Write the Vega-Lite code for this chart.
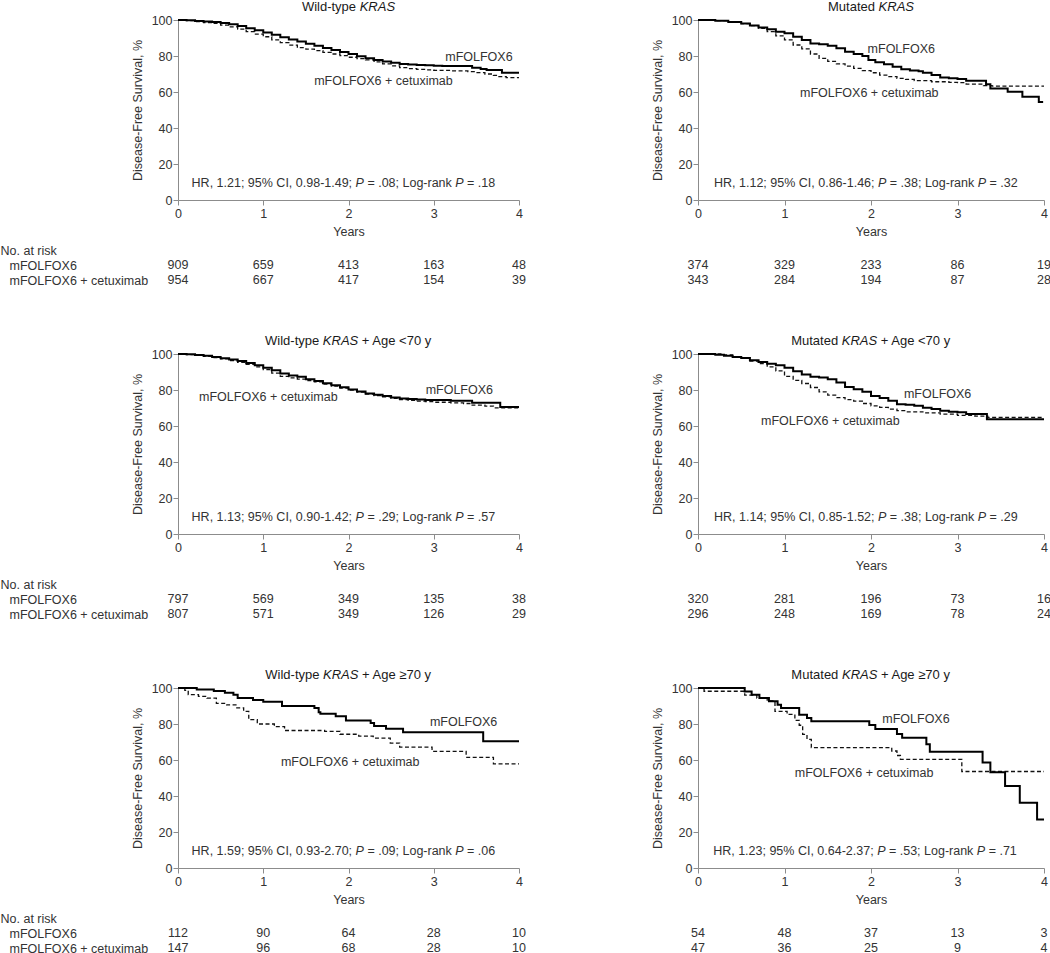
{
  "$schema": "https://vega.github.io/schema/vega-lite/v6.json",
  "padding": 0,
  "background": "white",
  "config": {
    "view": {"stroke": null},
    "font": "Liberation Sans",
    "axis": {"grid": false, "domainColor": "#8c8c8c", "tickColor": "#8c8c8c", "labelColor": "#333333", "titleColor": "#333333", "labelFontSize": 12.5, "titleFontSize": 12.5, "titleFontWeight": "normal", "tickSize": 5, "labelFlush": false, "labelOverlap": false},
    "axisX": {"labelPadding": 2, "titlePadding": 6},
    "axisY": {"labelPadding": 1, "titlePadding": 7},
    "text": {"fontSize": 12.5, "color": "#333333", "baseline": "middle"}
  },
  "datasets": {
    "km": [
      {"panel":"p1","arm":"mFOLFOX6","t":0,"s":100},{"panel":"p1","arm":"mFOLFOX6","t":0.1,"s":99.8},{"panel":"p1","arm":"mFOLFOX6","t":0.2,"s":99.5},{"panel":"p1","arm":"mFOLFOX6","t":0.3,"s":99.2},{"panel":"p1","arm":"mFOLFOX6","t":0.4,"s":98.9},{"panel":"p1","arm":"mFOLFOX6","t":0.5,"s":98.3},{"panel":"p1","arm":"mFOLFOX6","t":0.6,"s":97.6},{"panel":"p1","arm":"mFOLFOX6","t":0.7,"s":96.6},{"panel":"p1","arm":"mFOLFOX6","t":0.8,"s":95.4},{"panel":"p1","arm":"mFOLFOX6","t":0.9,"s":94.3},{"panel":"p1","arm":"mFOLFOX6","t":1.0,"s":93.1},{"panel":"p1","arm":"mFOLFOX6","t":1.1,"s":91.8},{"panel":"p1","arm":"mFOLFOX6","t":1.2,"s":90.4},{"panel":"p1","arm":"mFOLFOX6","t":1.3,"s":89.1},{"panel":"p1","arm":"mFOLFOX6","t":1.4,"s":88.0},{"panel":"p1","arm":"mFOLFOX6","t":1.5,"s":86.8},{"panel":"p1","arm":"mFOLFOX6","t":1.6,"s":85.7},{"panel":"p1","arm":"mFOLFOX6","t":1.7,"s":84.5},{"panel":"p1","arm":"mFOLFOX6","t":1.8,"s":83.3},{"panel":"p1","arm":"mFOLFOX6","t":1.9,"s":82.2},{"panel":"p1","arm":"mFOLFOX6","t":2.0,"s":81.1},{"panel":"p1","arm":"mFOLFOX6","t":2.1,"s":79.9},{"panel":"p1","arm":"mFOLFOX6","t":2.2,"s":78.7},{"panel":"p1","arm":"mFOLFOX6","t":2.3,"s":77.8},{"panel":"p1","arm":"mFOLFOX6","t":2.4,"s":76.9},{"panel":"p1","arm":"mFOLFOX6","t":2.5,"s":76.2},{"panel":"p1","arm":"mFOLFOX6","t":2.6,"s":75.6},{"panel":"p1","arm":"mFOLFOX6","t":2.7,"s":75.3},{"panel":"p1","arm":"mFOLFOX6","t":2.8,"s":75.0},{"panel":"p1","arm":"mFOLFOX6","t":2.9,"s":74.8},{"panel":"p1","arm":"mFOLFOX6","t":3.0,"s":74.6},{"panel":"p1","arm":"mFOLFOX6","t":3.1,"s":74.5},{"panel":"p1","arm":"mFOLFOX6","t":3.2,"s":74.4},{"panel":"p1","arm":"mFOLFOX6","t":3.45,"s":73.5},{"panel":"p1","arm":"mFOLFOX6","t":3.55,"s":72.8},{"panel":"p1","arm":"mFOLFOX6","t":3.62,"s":72.2},{"panel":"p1","arm":"mFOLFOX6","t":3.8,"s":70.7},{"panel":"p1","arm":"mFOLFOX6","t":4.0,"s":70.7},
      {"panel":"p1","arm":"mFOLFOX6 + cetuximab","t":0,"s":100},{"panel":"p1","arm":"mFOLFOX6 + cetuximab","t":0.1,"s":99.6},{"panel":"p1","arm":"mFOLFOX6 + cetuximab","t":0.2,"s":99.1},{"panel":"p1","arm":"mFOLFOX6 + cetuximab","t":0.3,"s":98.6},{"panel":"p1","arm":"mFOLFOX6 + cetuximab","t":0.4,"s":98.1},{"panel":"p1","arm":"mFOLFOX6 + cetuximab","t":0.5,"s":97.2},{"panel":"p1","arm":"mFOLFOX6 + cetuximab","t":0.6,"s":96.2},{"panel":"p1","arm":"mFOLFOX6 + cetuximab","t":0.7,"s":94.9},{"panel":"p1","arm":"mFOLFOX6 + cetuximab","t":0.8,"s":93.5},{"panel":"p1","arm":"mFOLFOX6 + cetuximab","t":0.9,"s":92.1},{"panel":"p1","arm":"mFOLFOX6 + cetuximab","t":1.0,"s":90.7},{"panel":"p1","arm":"mFOLFOX6 + cetuximab","t":1.1,"s":89.0},{"panel":"p1","arm":"mFOLFOX6 + cetuximab","t":1.2,"s":87.4},{"panel":"p1","arm":"mFOLFOX6 + cetuximab","t":1.3,"s":86.0},{"panel":"p1","arm":"mFOLFOX6 + cetuximab","t":1.4,"s":84.6},{"panel":"p1","arm":"mFOLFOX6 + cetuximab","t":1.5,"s":83.8},{"panel":"p1","arm":"mFOLFOX6 + cetuximab","t":1.6,"s":83.0},{"panel":"p1","arm":"mFOLFOX6 + cetuximab","t":1.7,"s":82.0},{"panel":"p1","arm":"mFOLFOX6 + cetuximab","t":1.8,"s":81.1},{"panel":"p1","arm":"mFOLFOX6 + cetuximab","t":1.9,"s":80.2},{"panel":"p1","arm":"mFOLFOX6 + cetuximab","t":2.0,"s":79.3},{"panel":"p1","arm":"mFOLFOX6 + cetuximab","t":2.1,"s":78.5},{"panel":"p1","arm":"mFOLFOX6 + cetuximab","t":2.2,"s":77.8},{"panel":"p1","arm":"mFOLFOX6 + cetuximab","t":2.3,"s":76.7},{"panel":"p1","arm":"mFOLFOX6 + cetuximab","t":2.4,"s":75.6},{"panel":"p1","arm":"mFOLFOX6 + cetuximab","t":2.5,"s":74.5},{"panel":"p1","arm":"mFOLFOX6 + cetuximab","t":2.6,"s":73.5},{"panel":"p1","arm":"mFOLFOX6 + cetuximab","t":2.7,"s":73.0},{"panel":"p1","arm":"mFOLFOX6 + cetuximab","t":2.8,"s":72.6},{"panel":"p1","arm":"mFOLFOX6 + cetuximab","t":2.9,"s":72.3},{"panel":"p1","arm":"mFOLFOX6 + cetuximab","t":3.0,"s":72.0},{"panel":"p1","arm":"mFOLFOX6 + cetuximab","t":3.2,"s":71.7},{"panel":"p1","arm":"mFOLFOX6 + cetuximab","t":3.4,"s":71.3},{"panel":"p1","arm":"mFOLFOX6 + cetuximab","t":3.5,"s":70.8},{"panel":"p1","arm":"mFOLFOX6 + cetuximab","t":3.6,"s":70.0},{"panel":"p1","arm":"mFOLFOX6 + cetuximab","t":3.7,"s":69.2},{"panel":"p1","arm":"mFOLFOX6 + cetuximab","t":3.75,"s":68.5},{"panel":"p1","arm":"mFOLFOX6 + cetuximab","t":3.85,"s":68.0},{"panel":"p1","arm":"mFOLFOX6 + cetuximab","t":4.0,"s":68.0},

      {"panel":"p2","arm":"mFOLFOX6","t":0,"s":100},{"panel":"p2","arm":"mFOLFOX6","t":0.2,"s":99.6},{"panel":"p2","arm":"mFOLFOX6","t":0.35,"s":98.9},{"panel":"p2","arm":"mFOLFOX6","t":0.5,"s":98.1},{"panel":"p2","arm":"mFOLFOX6","t":0.6,"s":97.0},{"panel":"p2","arm":"mFOLFOX6","t":0.7,"s":95.9},{"panel":"p2","arm":"mFOLFOX6","t":0.8,"s":94.8},{"panel":"p2","arm":"mFOLFOX6","t":0.9,"s":93.5},{"panel":"p2","arm":"mFOLFOX6","t":1.0,"s":92.6},{"panel":"p2","arm":"mFOLFOX6","t":1.1,"s":90.7},{"panel":"p2","arm":"mFOLFOX6","t":1.2,"s":88.9},{"panel":"p2","arm":"mFOLFOX6","t":1.3,"s":87.0},{"panel":"p2","arm":"mFOLFOX6","t":1.4,"s":86.5},{"panel":"p2","arm":"mFOLFOX6","t":1.5,"s":85.7},{"panel":"p2","arm":"mFOLFOX6","t":1.6,"s":84.3},{"panel":"p2","arm":"mFOLFOX6","t":1.7,"s":82.4},{"panel":"p2","arm":"mFOLFOX6","t":1.8,"s":81.1},{"panel":"p2","arm":"mFOLFOX6","t":1.9,"s":80.0},{"panel":"p2","arm":"mFOLFOX6","t":1.97,"s":77.8},{"panel":"p2","arm":"mFOLFOX6","t":2.05,"s":76.5},{"panel":"p2","arm":"mFOLFOX6","t":2.15,"s":75.4},{"panel":"p2","arm":"mFOLFOX6","t":2.25,"s":74.0},{"panel":"p2","arm":"mFOLFOX6","t":2.35,"s":72.6},{"panel":"p2","arm":"mFOLFOX6","t":2.45,"s":72.0},{"panel":"p2","arm":"mFOLFOX6","t":2.55,"s":71.5},{"panel":"p2","arm":"mFOLFOX6","t":2.6,"s":70.7},{"panel":"p2","arm":"mFOLFOX6","t":2.7,"s":69.4},{"panel":"p2","arm":"mFOLFOX6","t":2.8,"s":68.1},{"panel":"p2","arm":"mFOLFOX6","t":2.9,"s":67.6},{"panel":"p2","arm":"mFOLFOX6","t":3.0,"s":67.2},{"panel":"p2","arm":"mFOLFOX6","t":3.1,"s":66.3},{"panel":"p2","arm":"mFOLFOX6","t":3.33,"s":64.3},{"panel":"p2","arm":"mFOLFOX6","t":3.38,"s":62.0},{"panel":"p2","arm":"mFOLFOX6","t":3.58,"s":60.2},{"panel":"p2","arm":"mFOLFOX6","t":3.75,"s":57.4},{"panel":"p2","arm":"mFOLFOX6","t":3.94,"s":54.5},{"panel":"p2","arm":"mFOLFOX6","t":3.99,"s":54.5},
      {"panel":"p2","arm":"mFOLFOX6 + cetuximab","t":0,"s":100},{"panel":"p2","arm":"mFOLFOX6 + cetuximab","t":0.2,"s":99.6},{"panel":"p2","arm":"mFOLFOX6 + cetuximab","t":0.35,"s":98.9},{"panel":"p2","arm":"mFOLFOX6 + cetuximab","t":0.5,"s":98.0},{"panel":"p2","arm":"mFOLFOX6 + cetuximab","t":0.6,"s":96.9},{"panel":"p2","arm":"mFOLFOX6 + cetuximab","t":0.7,"s":95.4},{"panel":"p2","arm":"mFOLFOX6 + cetuximab","t":0.8,"s":93.5},{"panel":"p2","arm":"mFOLFOX6 + cetuximab","t":0.9,"s":91.2},{"panel":"p2","arm":"mFOLFOX6 + cetuximab","t":1.0,"s":89.0},{"panel":"p2","arm":"mFOLFOX6 + cetuximab","t":1.1,"s":86.1},{"panel":"p2","arm":"mFOLFOX6 + cetuximab","t":1.2,"s":84.0},{"panel":"p2","arm":"mFOLFOX6 + cetuximab","t":1.3,"s":81.1},{"panel":"p2","arm":"mFOLFOX6 + cetuximab","t":1.4,"s":78.7},{"panel":"p2","arm":"mFOLFOX6 + cetuximab","t":1.5,"s":77.0},{"panel":"p2","arm":"mFOLFOX6 + cetuximab","t":1.6,"s":75.6},{"panel":"p2","arm":"mFOLFOX6 + cetuximab","t":1.7,"s":74.4},{"panel":"p2","arm":"mFOLFOX6 + cetuximab","t":1.8,"s":73.1},{"panel":"p2","arm":"mFOLFOX6 + cetuximab","t":1.9,"s":71.9},{"panel":"p2","arm":"mFOLFOX6 + cetuximab","t":2.0,"s":70.7},{"panel":"p2","arm":"mFOLFOX6 + cetuximab","t":2.1,"s":69.4},{"panel":"p2","arm":"mFOLFOX6 + cetuximab","t":2.2,"s":68.5},{"panel":"p2","arm":"mFOLFOX6 + cetuximab","t":2.3,"s":67.6},{"panel":"p2","arm":"mFOLFOX6 + cetuximab","t":2.4,"s":67.0},{"panel":"p2","arm":"mFOLFOX6 + cetuximab","t":2.5,"s":66.3},{"panel":"p2","arm":"mFOLFOX6 + cetuximab","t":2.7,"s":65.7},{"panel":"p2","arm":"mFOLFOX6 + cetuximab","t":2.9,"s":65.4},{"panel":"p2","arm":"mFOLFOX6 + cetuximab","t":3.0,"s":65.2},{"panel":"p2","arm":"mFOLFOX6 + cetuximab","t":3.1,"s":64.4},{"panel":"p2","arm":"mFOLFOX6 + cetuximab","t":3.3,"s":63.5},{"panel":"p2","arm":"mFOLFOX6 + cetuximab","t":3.4,"s":63.3},{"panel":"p2","arm":"mFOLFOX6 + cetuximab","t":4.0,"s":63.3},

      {"panel":"p3","arm":"mFOLFOX6","t":0,"s":100},{"panel":"p3","arm":"mFOLFOX6","t":0.1,"s":99.8},{"panel":"p3","arm":"mFOLFOX6","t":0.2,"s":99.5},{"panel":"p3","arm":"mFOLFOX6","t":0.3,"s":99.0},{"panel":"p3","arm":"mFOLFOX6","t":0.4,"s":98.3},{"panel":"p3","arm":"mFOLFOX6","t":0.5,"s":97.7},{"panel":"p3","arm":"mFOLFOX6","t":0.6,"s":97.0},{"panel":"p3","arm":"mFOLFOX6","t":0.7,"s":96.1},{"panel":"p3","arm":"mFOLFOX6","t":0.8,"s":95.0},{"panel":"p3","arm":"mFOLFOX6","t":0.9,"s":93.8},{"panel":"p3","arm":"mFOLFOX6","t":1.0,"s":92.4},{"panel":"p3","arm":"mFOLFOX6","t":1.1,"s":91.0},{"panel":"p3","arm":"mFOLFOX6","t":1.2,"s":89.1},{"panel":"p3","arm":"mFOLFOX6","t":1.3,"s":88.0},{"panel":"p3","arm":"mFOLFOX6","t":1.4,"s":87.3},{"panel":"p3","arm":"mFOLFOX6","t":1.5,"s":86.0},{"panel":"p3","arm":"mFOLFOX6","t":1.6,"s":85.0},{"panel":"p3","arm":"mFOLFOX6","t":1.7,"s":83.8},{"panel":"p3","arm":"mFOLFOX6","t":1.8,"s":82.7},{"panel":"p3","arm":"mFOLFOX6","t":1.9,"s":81.5},{"panel":"p3","arm":"mFOLFOX6","t":2.0,"s":80.3},{"panel":"p3","arm":"mFOLFOX6","t":2.1,"s":79.1},{"panel":"p3","arm":"mFOLFOX6","t":2.2,"s":78.0},{"panel":"p3","arm":"mFOLFOX6","t":2.3,"s":77.3},{"panel":"p3","arm":"mFOLFOX6","t":2.4,"s":76.6},{"panel":"p3","arm":"mFOLFOX6","t":2.5,"s":75.9},{"panel":"p3","arm":"mFOLFOX6","t":2.6,"s":75.3},{"panel":"p3","arm":"mFOLFOX6","t":2.7,"s":75.0},{"panel":"p3","arm":"mFOLFOX6","t":2.8,"s":74.7},{"panel":"p3","arm":"mFOLFOX6","t":2.9,"s":74.5},{"panel":"p3","arm":"mFOLFOX6","t":3.0,"s":74.4},{"panel":"p3","arm":"mFOLFOX6","t":3.2,"s":74.0},{"panel":"p3","arm":"mFOLFOX6","t":3.45,"s":72.9},{"panel":"p3","arm":"mFOLFOX6","t":3.78,"s":70.5},{"panel":"p3","arm":"mFOLFOX6","t":4.0,"s":70.5},
      {"panel":"p3","arm":"mFOLFOX6 + cetuximab","t":0,"s":100},{"panel":"p3","arm":"mFOLFOX6 + cetuximab","t":0.1,"s":99.7},{"panel":"p3","arm":"mFOLFOX6 + cetuximab","t":0.2,"s":99.3},{"panel":"p3","arm":"mFOLFOX6 + cetuximab","t":0.3,"s":98.7},{"panel":"p3","arm":"mFOLFOX6 + cetuximab","t":0.4,"s":98.0},{"panel":"p3","arm":"mFOLFOX6 + cetuximab","t":0.5,"s":97.3},{"panel":"p3","arm":"mFOLFOX6 + cetuximab","t":0.6,"s":96.4},{"panel":"p3","arm":"mFOLFOX6 + cetuximab","t":0.7,"s":95.4},{"panel":"p3","arm":"mFOLFOX6 + cetuximab","t":0.8,"s":94.3},{"panel":"p3","arm":"mFOLFOX6 + cetuximab","t":0.9,"s":92.9},{"panel":"p3","arm":"mFOLFOX6 + cetuximab","t":1.0,"s":91.3},{"panel":"p3","arm":"mFOLFOX6 + cetuximab","t":1.1,"s":89.4},{"panel":"p3","arm":"mFOLFOX6 + cetuximab","t":1.2,"s":87.6},{"panel":"p3","arm":"mFOLFOX6 + cetuximab","t":1.3,"s":86.7},{"panel":"p3","arm":"mFOLFOX6 + cetuximab","t":1.4,"s":86.0},{"panel":"p3","arm":"mFOLFOX6 + cetuximab","t":1.5,"s":85.2},{"panel":"p3","arm":"mFOLFOX6 + cetuximab","t":1.6,"s":84.5},{"panel":"p3","arm":"mFOLFOX6 + cetuximab","t":1.7,"s":83.3},{"panel":"p3","arm":"mFOLFOX6 + cetuximab","t":1.8,"s":82.1},{"panel":"p3","arm":"mFOLFOX6 + cetuximab","t":1.9,"s":81.0},{"panel":"p3","arm":"mFOLFOX6 + cetuximab","t":2.0,"s":79.9},{"panel":"p3","arm":"mFOLFOX6 + cetuximab","t":2.1,"s":78.8},{"panel":"p3","arm":"mFOLFOX6 + cetuximab","t":2.2,"s":77.7},{"panel":"p3","arm":"mFOLFOX6 + cetuximab","t":2.3,"s":76.9},{"panel":"p3","arm":"mFOLFOX6 + cetuximab","t":2.4,"s":76.2},{"panel":"p3","arm":"mFOLFOX6 + cetuximab","t":2.5,"s":75.4},{"panel":"p3","arm":"mFOLFOX6 + cetuximab","t":2.6,"s":74.7},{"panel":"p3","arm":"mFOLFOX6 + cetuximab","t":2.7,"s":74.2},{"panel":"p3","arm":"mFOLFOX6 + cetuximab","t":2.8,"s":73.8},{"panel":"p3","arm":"mFOLFOX6 + cetuximab","t":2.9,"s":73.5},{"panel":"p3","arm":"mFOLFOX6 + cetuximab","t":3.0,"s":73.2},{"panel":"p3","arm":"mFOLFOX6 + cetuximab","t":3.2,"s":72.9},{"panel":"p3","arm":"mFOLFOX6 + cetuximab","t":3.35,"s":72.5},{"panel":"p3","arm":"mFOLFOX6 + cetuximab","t":3.45,"s":71.6},{"panel":"p3","arm":"mFOLFOX6 + cetuximab","t":3.6,"s":71.0},{"panel":"p3","arm":"mFOLFOX6 + cetuximab","t":3.7,"s":70.1},{"panel":"p3","arm":"mFOLFOX6 + cetuximab","t":4.0,"s":70.1},

      {"panel":"p4","arm":"mFOLFOX6","t":0,"s":100},{"panel":"p4","arm":"mFOLFOX6","t":0.2,"s":99.6},{"panel":"p4","arm":"mFOLFOX6","t":0.3,"s":99.0},{"panel":"p4","arm":"mFOLFOX6","t":0.4,"s":98.3},{"panel":"p4","arm":"mFOLFOX6","t":0.5,"s":97.8},{"panel":"p4","arm":"mFOLFOX6","t":0.6,"s":96.5},{"panel":"p4","arm":"mFOLFOX6","t":0.7,"s":95.6},{"panel":"p4","arm":"mFOLFOX6","t":0.8,"s":94.6},{"panel":"p4","arm":"mFOLFOX6","t":0.9,"s":93.7},{"panel":"p4","arm":"mFOLFOX6","t":1.0,"s":92.4},{"panel":"p4","arm":"mFOLFOX6","t":1.1,"s":90.4},{"panel":"p4","arm":"mFOLFOX6","t":1.2,"s":88.6},{"panel":"p4","arm":"mFOLFOX6","t":1.3,"s":87.3},{"panel":"p4","arm":"mFOLFOX6","t":1.4,"s":86.9},{"panel":"p4","arm":"mFOLFOX6","t":1.5,"s":86.0},{"panel":"p4","arm":"mFOLFOX6","t":1.6,"s":84.1},{"panel":"p4","arm":"mFOLFOX6","t":1.7,"s":81.7},{"panel":"p4","arm":"mFOLFOX6","t":1.8,"s":80.4},{"panel":"p4","arm":"mFOLFOX6","t":1.9,"s":79.0},{"panel":"p4","arm":"mFOLFOX6","t":2.0,"s":76.6},{"panel":"p4","arm":"mFOLFOX6","t":2.1,"s":75.6},{"panel":"p4","arm":"mFOLFOX6","t":2.2,"s":74.0},{"panel":"p4","arm":"mFOLFOX6","t":2.3,"s":72.1},{"panel":"p4","arm":"mFOLFOX6","t":2.4,"s":71.8},{"panel":"p4","arm":"mFOLFOX6","t":2.5,"s":71.2},{"panel":"p4","arm":"mFOLFOX6","t":2.6,"s":70.1},{"panel":"p4","arm":"mFOLFOX6","t":2.7,"s":69.4},{"panel":"p4","arm":"mFOLFOX6","t":2.8,"s":68.5},{"panel":"p4","arm":"mFOLFOX6","t":2.9,"s":67.9},{"panel":"p4","arm":"mFOLFOX6","t":3.0,"s":67.7},{"panel":"p4","arm":"mFOLFOX6","t":3.1,"s":66.6},{"panel":"p4","arm":"mFOLFOX6","t":3.34,"s":63.7},{"panel":"p4","arm":"mFOLFOX6","t":4.0,"s":63.7},
      {"panel":"p4","arm":"mFOLFOX6 + cetuximab","t":0,"s":100},{"panel":"p4","arm":"mFOLFOX6 + cetuximab","t":0.3,"s":99.5},{"panel":"p4","arm":"mFOLFOX6 + cetuximab","t":0.4,"s":98.5},{"panel":"p4","arm":"mFOLFOX6 + cetuximab","t":0.5,"s":97.8},{"panel":"p4","arm":"mFOLFOX6 + cetuximab","t":0.6,"s":96.1},{"panel":"p4","arm":"mFOLFOX6 + cetuximab","t":0.7,"s":94.6},{"panel":"p4","arm":"mFOLFOX6 + cetuximab","t":0.8,"s":92.8},{"panel":"p4","arm":"mFOLFOX6 + cetuximab","t":0.9,"s":90.6},{"panel":"p4","arm":"mFOLFOX6 + cetuximab","t":1.0,"s":87.6},{"panel":"p4","arm":"mFOLFOX6 + cetuximab","t":1.1,"s":85.4},{"panel":"p4","arm":"mFOLFOX6 + cetuximab","t":1.2,"s":83.6},{"panel":"p4","arm":"mFOLFOX6 + cetuximab","t":1.3,"s":81.4},{"panel":"p4","arm":"mFOLFOX6 + cetuximab","t":1.4,"s":79.0},{"panel":"p4","arm":"mFOLFOX6 + cetuximab","t":1.5,"s":77.1},{"panel":"p4","arm":"mFOLFOX6 + cetuximab","t":1.6,"s":75.8},{"panel":"p4","arm":"mFOLFOX6 + cetuximab","t":1.7,"s":74.7},{"panel":"p4","arm":"mFOLFOX6 + cetuximab","t":1.8,"s":73.8},{"panel":"p4","arm":"mFOLFOX6 + cetuximab","t":1.9,"s":72.5},{"panel":"p4","arm":"mFOLFOX6 + cetuximab","t":2.0,"s":71.2},{"panel":"p4","arm":"mFOLFOX6 + cetuximab","t":2.1,"s":70.3},{"panel":"p4","arm":"mFOLFOX6 + cetuximab","t":2.2,"s":69.4},{"panel":"p4","arm":"mFOLFOX6 + cetuximab","t":2.3,"s":68.5},{"panel":"p4","arm":"mFOLFOX6 + cetuximab","t":2.4,"s":67.9},{"panel":"p4","arm":"mFOLFOX6 + cetuximab","t":2.6,"s":67.3},{"panel":"p4","arm":"mFOLFOX6 + cetuximab","t":2.8,"s":66.6},{"panel":"p4","arm":"mFOLFOX6 + cetuximab","t":3.0,"s":65.9},{"panel":"p4","arm":"mFOLFOX6 + cetuximab","t":3.2,"s":65.5},{"panel":"p4","arm":"mFOLFOX6 + cetuximab","t":3.35,"s":64.8},{"panel":"p4","arm":"mFOLFOX6 + cetuximab","t":4.0,"s":64.8},

      {"panel":"p5","arm":"mFOLFOX6","t":0,"s":100},{"panel":"p5","arm":"mFOLFOX6","t":0.22,"s":99.2},{"panel":"p5","arm":"mFOLFOX6","t":0.42,"s":98.3},{"panel":"p5","arm":"mFOLFOX6","t":0.55,"s":97.3},{"panel":"p5","arm":"mFOLFOX6","t":0.65,"s":96.3},{"panel":"p5","arm":"mFOLFOX6","t":0.7,"s":94.4},{"panel":"p5","arm":"mFOLFOX6","t":0.88,"s":93.3},{"panel":"p5","arm":"mFOLFOX6","t":1.0,"s":92.4},{"panel":"p5","arm":"mFOLFOX6","t":1.22,"s":90.0},{"panel":"p5","arm":"mFOLFOX6","t":1.6,"s":88.9},{"panel":"p5","arm":"mFOLFOX6","t":1.65,"s":86.5},{"panel":"p5","arm":"mFOLFOX6","t":1.67,"s":85.7},{"panel":"p5","arm":"mFOLFOX6","t":1.85,"s":84.3},{"panel":"p5","arm":"mFOLFOX6","t":1.97,"s":81.9},{"panel":"p5","arm":"mFOLFOX6","t":2.26,"s":80.6},{"panel":"p5","arm":"mFOLFOX6","t":2.3,"s":78.9},{"panel":"p5","arm":"mFOLFOX6","t":2.44,"s":77.4},{"panel":"p5","arm":"mFOLFOX6","t":2.64,"s":75.4},{"panel":"p5","arm":"mFOLFOX6","t":3.58,"s":70.4},{"panel":"p5","arm":"mFOLFOX6","t":4.0,"s":70.4},
      {"panel":"p5","arm":"mFOLFOX6 + cetuximab","t":0,"s":100},{"panel":"p5","arm":"mFOLFOX6 + cetuximab","t":0.08,"s":98.7},{"panel":"p5","arm":"mFOLFOX6 + cetuximab","t":0.12,"s":96.3},{"panel":"p5","arm":"mFOLFOX6 + cetuximab","t":0.24,"s":95.4},{"panel":"p5","arm":"mFOLFOX6 + cetuximab","t":0.34,"s":94.4},{"panel":"p5","arm":"mFOLFOX6 + cetuximab","t":0.45,"s":91.5},{"panel":"p5","arm":"mFOLFOX6 + cetuximab","t":0.57,"s":90.6},{"panel":"p5","arm":"mFOLFOX6 + cetuximab","t":0.69,"s":89.0},{"panel":"p5","arm":"mFOLFOX6 + cetuximab","t":0.77,"s":87.0},{"panel":"p5","arm":"mFOLFOX6 + cetuximab","t":0.83,"s":82.4},{"panel":"p5","arm":"mFOLFOX6 + cetuximab","t":0.93,"s":80.0},{"panel":"p5","arm":"mFOLFOX6 + cetuximab","t":1.13,"s":78.5},{"panel":"p5","arm":"mFOLFOX6 + cetuximab","t":1.25,"s":76.4},{"panel":"p5","arm":"mFOLFOX6 + cetuximab","t":1.72,"s":75.9},{"panel":"p5","arm":"mFOLFOX6 + cetuximab","t":1.9,"s":74.3},{"panel":"p5","arm":"mFOLFOX6 + cetuximab","t":2.12,"s":73.3},{"panel":"p5","arm":"mFOLFOX6 + cetuximab","t":2.29,"s":72.2},{"panel":"p5","arm":"mFOLFOX6 + cetuximab","t":2.49,"s":69.4},{"panel":"p5","arm":"mFOLFOX6 + cetuximab","t":2.6,"s":67.2},{"panel":"p5","arm":"mFOLFOX6 + cetuximab","t":2.98,"s":64.8},{"panel":"p5","arm":"mFOLFOX6 + cetuximab","t":3.38,"s":61.5},{"panel":"p5","arm":"mFOLFOX6 + cetuximab","t":3.7,"s":57.8},{"panel":"p5","arm":"mFOLFOX6 + cetuximab","t":4.0,"s":57.8},

      {"panel":"p6","arm":"mFOLFOX6","t":0,"s":100},{"panel":"p6","arm":"mFOLFOX6","t":0.54,"s":98.1},{"panel":"p6","arm":"mFOLFOX6","t":0.62,"s":96.3},{"panel":"p6","arm":"mFOLFOX6","t":0.71,"s":94.4},{"panel":"p6","arm":"mFOLFOX6","t":0.82,"s":92.6},{"panel":"p6","arm":"mFOLFOX6","t":0.92,"s":90.7},{"panel":"p6","arm":"mFOLFOX6","t":0.96,"s":88.9},{"panel":"p6","arm":"mFOLFOX6","t":1.17,"s":85.2},{"panel":"p6","arm":"mFOLFOX6","t":1.26,"s":83.3},{"panel":"p6","arm":"mFOLFOX6","t":1.31,"s":81.5},{"panel":"p6","arm":"mFOLFOX6","t":1.98,"s":79.4},{"panel":"p6","arm":"mFOLFOX6","t":2.05,"s":77.2},{"panel":"p6","arm":"mFOLFOX6","t":2.3,"s":74.5},{"panel":"p6","arm":"mFOLFOX6","t":2.36,"s":72.4},{"panel":"p6","arm":"mFOLFOX6","t":2.64,"s":68.7},{"panel":"p6","arm":"mFOLFOX6","t":2.68,"s":64.6},{"panel":"p6","arm":"mFOLFOX6","t":3.29,"s":58.6},{"panel":"p6","arm":"mFOLFOX6","t":3.38,"s":53.2},{"panel":"p6","arm":"mFOLFOX6","t":3.55,"s":45.5},{"panel":"p6","arm":"mFOLFOX6","t":3.72,"s":36.3},{"panel":"p6","arm":"mFOLFOX6","t":3.92,"s":27.0},{"panel":"p6","arm":"mFOLFOX6","t":4.0,"s":27.0},
      {"panel":"p6","arm":"mFOLFOX6 + cetuximab","t":0,"s":100},{"panel":"p6","arm":"mFOLFOX6 + cetuximab","t":0.07,"s":98.2},{"panel":"p6","arm":"mFOLFOX6 + cetuximab","t":0.54,"s":96.0},{"panel":"p6","arm":"mFOLFOX6 + cetuximab","t":0.68,"s":94.4},{"panel":"p6","arm":"mFOLFOX6 + cetuximab","t":0.8,"s":92.8},{"panel":"p6","arm":"mFOLFOX6 + cetuximab","t":0.89,"s":87.0},{"panel":"p6","arm":"mFOLFOX6 + cetuximab","t":1.03,"s":85.3},{"panel":"p6","arm":"mFOLFOX6 + cetuximab","t":1.12,"s":82.0},{"panel":"p6","arm":"mFOLFOX6 + cetuximab","t":1.17,"s":79.3},{"panel":"p6","arm":"mFOLFOX6 + cetuximab","t":1.21,"s":74.2},{"panel":"p6","arm":"mFOLFOX6 + cetuximab","t":1.26,"s":71.5},{"panel":"p6","arm":"mFOLFOX6 + cetuximab","t":1.31,"s":66.9},{"panel":"p6","arm":"mFOLFOX6 + cetuximab","t":2.24,"s":65.0},{"panel":"p6","arm":"mFOLFOX6 + cetuximab","t":2.3,"s":62.5},{"panel":"p6","arm":"mFOLFOX6 + cetuximab","t":2.34,"s":60.4},{"panel":"p6","arm":"mFOLFOX6 + cetuximab","t":3.05,"s":53.6},{"panel":"p6","arm":"mFOLFOX6 + cetuximab","t":4.0,"s":53.6}
    ],
    "risk": [
      {"panel":"p1","arm":"mFOLFOX6","t":0,"n":909},{"panel":"p1","arm":"mFOLFOX6","t":1,"n":659},{"panel":"p1","arm":"mFOLFOX6","t":2,"n":413},{"panel":"p1","arm":"mFOLFOX6","t":3,"n":163},{"panel":"p1","arm":"mFOLFOX6","t":4,"n":48},
      {"panel":"p1","arm":"mFOLFOX6 + cetuximab","t":0,"n":954},{"panel":"p1","arm":"mFOLFOX6 + cetuximab","t":1,"n":667},{"panel":"p1","arm":"mFOLFOX6 + cetuximab","t":2,"n":417},{"panel":"p1","arm":"mFOLFOX6 + cetuximab","t":3,"n":154},{"panel":"p1","arm":"mFOLFOX6 + cetuximab","t":4,"n":39},
      {"panel":"p2","arm":"mFOLFOX6","t":0,"n":374},{"panel":"p2","arm":"mFOLFOX6","t":1,"n":329},{"panel":"p2","arm":"mFOLFOX6","t":2,"n":233},{"panel":"p2","arm":"mFOLFOX6","t":3,"n":86},{"panel":"p2","arm":"mFOLFOX6","t":4,"n":19},
      {"panel":"p2","arm":"mFOLFOX6 + cetuximab","t":0,"n":343},{"panel":"p2","arm":"mFOLFOX6 + cetuximab","t":1,"n":284},{"panel":"p2","arm":"mFOLFOX6 + cetuximab","t":2,"n":194},{"panel":"p2","arm":"mFOLFOX6 + cetuximab","t":3,"n":87},{"panel":"p2","arm":"mFOLFOX6 + cetuximab","t":4,"n":28},
      {"panel":"p3","arm":"mFOLFOX6","t":0,"n":797},{"panel":"p3","arm":"mFOLFOX6","t":1,"n":569},{"panel":"p3","arm":"mFOLFOX6","t":2,"n":349},{"panel":"p3","arm":"mFOLFOX6","t":3,"n":135},{"panel":"p3","arm":"mFOLFOX6","t":4,"n":38},
      {"panel":"p3","arm":"mFOLFOX6 + cetuximab","t":0,"n":807},{"panel":"p3","arm":"mFOLFOX6 + cetuximab","t":1,"n":571},{"panel":"p3","arm":"mFOLFOX6 + cetuximab","t":2,"n":349},{"panel":"p3","arm":"mFOLFOX6 + cetuximab","t":3,"n":126},{"panel":"p3","arm":"mFOLFOX6 + cetuximab","t":4,"n":29},
      {"panel":"p4","arm":"mFOLFOX6","t":0,"n":320},{"panel":"p4","arm":"mFOLFOX6","t":1,"n":281},{"panel":"p4","arm":"mFOLFOX6","t":2,"n":196},{"panel":"p4","arm":"mFOLFOX6","t":3,"n":73},{"panel":"p4","arm":"mFOLFOX6","t":4,"n":16},
      {"panel":"p4","arm":"mFOLFOX6 + cetuximab","t":0,"n":296},{"panel":"p4","arm":"mFOLFOX6 + cetuximab","t":1,"n":248},{"panel":"p4","arm":"mFOLFOX6 + cetuximab","t":2,"n":169},{"panel":"p4","arm":"mFOLFOX6 + cetuximab","t":3,"n":78},{"panel":"p4","arm":"mFOLFOX6 + cetuximab","t":4,"n":24},
      {"panel":"p5","arm":"mFOLFOX6","t":0,"n":112},{"panel":"p5","arm":"mFOLFOX6","t":1,"n":90},{"panel":"p5","arm":"mFOLFOX6","t":2,"n":64},{"panel":"p5","arm":"mFOLFOX6","t":3,"n":28},{"panel":"p5","arm":"mFOLFOX6","t":4,"n":10},
      {"panel":"p5","arm":"mFOLFOX6 + cetuximab","t":0,"n":147},{"panel":"p5","arm":"mFOLFOX6 + cetuximab","t":1,"n":96},{"panel":"p5","arm":"mFOLFOX6 + cetuximab","t":2,"n":68},{"panel":"p5","arm":"mFOLFOX6 + cetuximab","t":3,"n":28},{"panel":"p5","arm":"mFOLFOX6 + cetuximab","t":4,"n":10},
      {"panel":"p6","arm":"mFOLFOX6","t":0,"n":54},{"panel":"p6","arm":"mFOLFOX6","t":1,"n":48},{"panel":"p6","arm":"mFOLFOX6","t":2,"n":37},{"panel":"p6","arm":"mFOLFOX6","t":3,"n":13},{"panel":"p6","arm":"mFOLFOX6","t":4,"n":3},
      {"panel":"p6","arm":"mFOLFOX6 + cetuximab","t":0,"n":47},{"panel":"p6","arm":"mFOLFOX6 + cetuximab","t":1,"n":36},{"panel":"p6","arm":"mFOLFOX6 + cetuximab","t":2,"n":25},{"panel":"p6","arm":"mFOLFOX6 + cetuximab","t":3,"n":9},{"panel":"p6","arm":"mFOLFOX6 + cetuximab","t":4,"n":4}
    ]
  },
  "spacing": 46,
  "vconcat": [
    {
      "spacing": 125,
      "hconcat": [
        {
          "bounds": "flush", "spacing": 42.5,
          "vconcat": [
            {
              "width": 341, "height": 180,
              "layer": [
                {"data": {"name": "km"}, "transform": [{"filter": "datum.panel === 'p1' && datum.arm === 'mFOLFOX6 + cetuximab'"}],
                 "mark": {"type": "line", "interpolate": "step-after", "color": "#111111", "strokeWidth": 1.3, "strokeDash": [4, 2.5]},
                 "encoding": {"x": {"field": "t", "type": "quantitative", "scale": {"domain": [0, 4], "nice": false}, "axis": {"values": [0, 1, 2, 3, 4], "tickCount": 5, "title": "Years", "format": "d"}},
                              "y": {"field": "s", "type": "quantitative", "scale": {"domain": [0, 100], "nice": false}, "axis": {"values": [0, 20, 40, 60, 80, 100], "tickCount": 6, "title": "Disease-Free Survival, %"}}}},
                {"data": {"name": "km"}, "transform": [{"filter": "datum.panel === 'p1' && datum.arm === 'mFOLFOX6'"}],
                 "mark": {"type": "line", "interpolate": "step-after", "color": "#000000", "strokeWidth": 2},
                 "encoding": {"x": {"field": "t", "type": "quantitative"}, "y": {"field": "s", "type": "quantitative"}}},
                {"data": {"values": [{}]}, "mark": {"type": "text", "text": "mFOLFOX6", "align": "center"}, "encoding": {"x": {"datum": 3.53, "type": "quantitative"}, "y": {"datum": 79.6, "type": "quantitative"}}},
                {"data": {"values": [{}]}, "mark": {"type": "text", "text": "mFOLFOX6 + cetuximab", "align": "center"}, "encoding": {"x": {"datum": 2.41, "type": "quantitative"}, "y": {"datum": 66.3, "type": "quantitative"}}},
                {"data": {"values": [{}]}, "mark": {"type": "text", "text": "HR, 1.21; 95% CI, 0.98-1.49;", "align": "left", "dx": -151.8}, "encoding": {"x": {"datum": 1.94, "type": "quantitative"}, "y": {"datum": 9.2, "type": "quantitative"}}},
                {"data": {"values": [{}]}, "mark": {"type": "text", "text": "P", "fontStyle": "italic", "align": "left", "dx": 12.2}, "encoding": {"x": {"datum": 1.94, "type": "quantitative"}, "y": {"datum": 9.2, "type": "quantitative"}}},
                {"data": {"values": [{}]}, "mark": {"type": "text", "text": "= .08; Log-rank", "align": "left", "dx": 24.0}, "encoding": {"x": {"datum": 1.94, "type": "quantitative"}, "y": {"datum": 9.2, "type": "quantitative"}}},
                {"data": {"values": [{}]}, "mark": {"type": "text", "text": "P", "fontStyle": "italic", "align": "left", "dx": 111.9}, "encoding": {"x": {"datum": 1.94, "type": "quantitative"}, "y": {"datum": 9.2, "type": "quantitative"}}},
                {"data": {"values": [{}]}, "mark": {"type": "text", "text": "= .18", "align": "left", "dx": 123.7}, "encoding": {"x": {"datum": 1.94, "type": "quantitative"}, "y": {"datum": 9.2, "type": "quantitative"}}},
                {"data": {"values": [{}]}, "mark": {"type": "text", "text": "Wild-type", "align": "left", "dx": -46.6, "fontSize": 13, "color": "#1a1a1a"}, "encoding": {"x": {"datum": 2, "type": "quantitative"}, "y": {"datum": 107.5, "type": "quantitative"}}},
                {"data": {"values": [{}]}, "mark": {"type": "text", "text": "KRAS", "fontStyle": "italic", "align": "left", "dx": 11.2, "fontSize": 13, "color": "#1a1a1a"}, "encoding": {"x": {"datum": 2, "type": "quantitative"}, "y": {"datum": 107.5, "type": "quantitative"}}}
              ]
            },
            {
              "width": 341, "height": 45,
              "data": {"name": "risk"},
              "transform": [{"filter": "datum.panel === 'p1'"}],
              "mark": {"type": "text", "align": "center"},
              "encoding": {
                "x": {"field": "t", "type": "quantitative", "scale": {"domain": [0, 4], "nice": false}, "axis": null},
                "y": {"field": "arm", "type": "nominal", "scale": {"domain": ["No. at risk", "mFOLFOX6", "mFOLFOX6 + cetuximab"]},
                      "axis": {"title": "No. at risk", "titleAngle": 0, "titleAlign": "left", "titleBaseline": "middle", "titleX": -178, "titleY": 7.5, "ticks": false, "domain": false, "labelAlign": "left", "labelPadding": 169, "labelLimit": 0, "labelExpr": "datum.value === 'No. at risk' ? '' : datum.value"}},
                "text": {"field": "n", "type": "nominal"}
              }
            }
          ]
        },
        {
          "bounds": "flush", "spacing": 42.5,
          "vconcat": [
            {
              "width": 346, "height": 180,
              "layer": [
                {"data": {"name": "km"}, "transform": [{"filter": "datum.panel === 'p2' && datum.arm === 'mFOLFOX6 + cetuximab'"}],
                 "mark": {"type": "line", "interpolate": "step-after", "color": "#111111", "strokeWidth": 1.3, "strokeDash": [4, 2.5]},
                 "encoding": {"x": {"field": "t", "type": "quantitative", "scale": {"domain": [0, 4], "nice": false}, "axis": {"values": [0, 1, 2, 3, 4], "tickCount": 5, "title": "Years", "format": "d"}},
                              "y": {"field": "s", "type": "quantitative", "scale": {"domain": [0, 100], "nice": false}, "axis": {"values": [0, 20, 40, 60, 80, 100], "tickCount": 6, "title": "Disease-Free Survival, %"}}}},
                {"data": {"name": "km"}, "transform": [{"filter": "datum.panel === 'p2' && datum.arm === 'mFOLFOX6'"}],
                 "mark": {"type": "line", "interpolate": "step-after", "color": "#000000", "strokeWidth": 2},
                 "encoding": {"x": {"field": "t", "type": "quantitative"}, "y": {"field": "s", "type": "quantitative"}}},
                {"data": {"values": [{}]}, "mark": {"type": "text", "text": "mFOLFOX6", "align": "center"}, "encoding": {"x": {"datum": 2.35, "type": "quantitative"}, "y": {"datum": 83.7, "type": "quantitative"}}},
                {"data": {"values": [{}]}, "mark": {"type": "text", "text": "mFOLFOX6 + cetuximab", "align": "center"}, "encoding": {"x": {"datum": 1.98, "type": "quantitative"}, "y": {"datum": 59.3, "type": "quantitative"}}},
                {"data": {"values": [{}]}, "mark": {"type": "text", "text": "HR, 1.12; 95% CI, 0.86-1.46;", "align": "left", "dx": -151.8}, "encoding": {"x": {"datum": 1.94, "type": "quantitative"}, "y": {"datum": 9.2, "type": "quantitative"}}},
                {"data": {"values": [{}]}, "mark": {"type": "text", "text": "P", "fontStyle": "italic", "align": "left", "dx": 12.2}, "encoding": {"x": {"datum": 1.94, "type": "quantitative"}, "y": {"datum": 9.2, "type": "quantitative"}}},
                {"data": {"values": [{}]}, "mark": {"type": "text", "text": "= .38; Log-rank", "align": "left", "dx": 24.0}, "encoding": {"x": {"datum": 1.94, "type": "quantitative"}, "y": {"datum": 9.2, "type": "quantitative"}}},
                {"data": {"values": [{}]}, "mark": {"type": "text", "text": "P", "fontStyle": "italic", "align": "left", "dx": 111.9}, "encoding": {"x": {"datum": 1.94, "type": "quantitative"}, "y": {"datum": 9.2, "type": "quantitative"}}},
                {"data": {"values": [{}]}, "mark": {"type": "text", "text": "= .32", "align": "left", "dx": 123.7}, "encoding": {"x": {"datum": 1.94, "type": "quantitative"}, "y": {"datum": 9.2, "type": "quantitative"}}},
                {"data": {"values": [{}]}, "mark": {"type": "text", "text": "Mutated", "align": "left", "dx": -43.0, "fontSize": 13, "color": "#1a1a1a"}, "encoding": {"x": {"datum": 2, "type": "quantitative"}, "y": {"datum": 107.5, "type": "quantitative"}}},
                {"data": {"values": [{}]}, "mark": {"type": "text", "text": "KRAS", "fontStyle": "italic", "align": "left", "dx": 7.6, "fontSize": 13, "color": "#1a1a1a"}, "encoding": {"x": {"datum": 2, "type": "quantitative"}, "y": {"datum": 107.5, "type": "quantitative"}}}
              ]
            },
            {
              "width": 346, "height": 45,
              "data": {"name": "risk"},
              "transform": [{"filter": "datum.panel === 'p2'"}],
              "mark": {"type": "text", "align": "center"},
              "encoding": {
                "x": {"field": "t", "type": "quantitative", "scale": {"domain": [0, 4], "nice": false}, "axis": null},
                "y": {"field": "arm", "type": "nominal", "scale": {"domain": ["No. at risk", "mFOLFOX6", "mFOLFOX6 + cetuximab"]}, "axis": null},
                "text": {"field": "n", "type": "nominal"}
              }
            }
          ]
        }
      ]
    },
    {
      "spacing": 125,
      "hconcat": [
        {
          "bounds": "flush", "spacing": 42.5,
          "vconcat": [
            {
              "width": 341, "height": 180,
              "layer": [
                {"data": {"name": "km"}, "transform": [{"filter": "datum.panel === 'p3' && datum.arm === 'mFOLFOX6 + cetuximab'"}],
                 "mark": {"type": "line", "interpolate": "step-after", "color": "#111111", "strokeWidth": 1.3, "strokeDash": [4, 2.5]},
                 "encoding": {"x": {"field": "t", "type": "quantitative", "scale": {"domain": [0, 4], "nice": false}, "axis": {"values": [0, 1, 2, 3, 4], "tickCount": 5, "title": "Years", "format": "d"}},
                              "y": {"field": "s", "type": "quantitative", "scale": {"domain": [0, 100], "nice": false}, "axis": {"values": [0, 20, 40, 60, 80, 100], "tickCount": 6, "title": "Disease-Free Survival, %"}}}},
                {"data": {"name": "km"}, "transform": [{"filter": "datum.panel === 'p3' && datum.arm === 'mFOLFOX6'"}],
                 "mark": {"type": "line", "interpolate": "step-after", "color": "#000000", "strokeWidth": 2},
                 "encoding": {"x": {"field": "t", "type": "quantitative"}, "y": {"field": "s", "type": "quantitative"}}},
                {"data": {"values": [{}]}, "mark": {"type": "text", "text": "mFOLFOX6", "align": "center"}, "encoding": {"x": {"datum": 3.30, "type": "quantitative"}, "y": {"datum": 80.0, "type": "quantitative"}}},
                {"data": {"values": [{}]}, "mark": {"type": "text", "text": "mFOLFOX6 + cetuximab", "align": "center"}, "encoding": {"x": {"datum": 1.06, "type": "quantitative"}, "y": {"datum": 75.9, "type": "quantitative"}}},
                {"data": {"values": [{}]}, "mark": {"type": "text", "text": "HR, 1.13; 95% CI, 0.90-1.42;", "align": "left", "dx": -151.8}, "encoding": {"x": {"datum": 1.94, "type": "quantitative"}, "y": {"datum": 9.2, "type": "quantitative"}}},
                {"data": {"values": [{}]}, "mark": {"type": "text", "text": "P", "fontStyle": "italic", "align": "left", "dx": 12.2}, "encoding": {"x": {"datum": 1.94, "type": "quantitative"}, "y": {"datum": 9.2, "type": "quantitative"}}},
                {"data": {"values": [{}]}, "mark": {"type": "text", "text": "= .29; Log-rank", "align": "left", "dx": 24.0}, "encoding": {"x": {"datum": 1.94, "type": "quantitative"}, "y": {"datum": 9.2, "type": "quantitative"}}},
                {"data": {"values": [{}]}, "mark": {"type": "text", "text": "P", "fontStyle": "italic", "align": "left", "dx": 111.9}, "encoding": {"x": {"datum": 1.94, "type": "quantitative"}, "y": {"datum": 9.2, "type": "quantitative"}}},
                {"data": {"values": [{}]}, "mark": {"type": "text", "text": "= .57", "align": "left", "dx": 123.7}, "encoding": {"x": {"datum": 1.94, "type": "quantitative"}, "y": {"datum": 9.2, "type": "quantitative"}}},
                {"data": {"values": [{}]}, "mark": {"type": "text", "text": "Wild-type", "align": "left", "dx": -83.45, "fontSize": 13, "color": "#1a1a1a"}, "encoding": {"x": {"datum": 2, "type": "quantitative"}, "y": {"datum": 107.5, "type": "quantitative"}}},
                {"data": {"values": [{}]}, "mark": {"type": "text", "text": "KRAS", "fontStyle": "italic", "align": "left", "dx": -25.67, "fontSize": 13, "color": "#1a1a1a"}, "encoding": {"x": {"datum": 2, "type": "quantitative"}, "y": {"datum": 107.5, "type": "quantitative"}}},
                {"data": {"values": [{}]}, "mark": {"type": "text", "text": "+ Age <70 y", "align": "left", "dx": 13.34, "fontSize": 13, "color": "#1a1a1a"}, "encoding": {"x": {"datum": 2, "type": "quantitative"}, "y": {"datum": 107.5, "type": "quantitative"}}}
              ]
            },
            {
              "width": 341, "height": 45,
              "data": {"name": "risk"},
              "transform": [{"filter": "datum.panel === 'p3'"}],
              "mark": {"type": "text", "align": "center"},
              "encoding": {
                "x": {"field": "t", "type": "quantitative", "scale": {"domain": [0, 4], "nice": false}, "axis": null},
                "y": {"field": "arm", "type": "nominal", "scale": {"domain": ["No. at risk", "mFOLFOX6", "mFOLFOX6 + cetuximab"]},
                      "axis": {"title": "No. at risk", "titleAngle": 0, "titleAlign": "left", "titleBaseline": "middle", "titleX": -178, "titleY": 7.5, "ticks": false, "domain": false, "labelAlign": "left", "labelPadding": 169, "labelLimit": 0, "labelExpr": "datum.value === 'No. at risk' ? '' : datum.value"}},
                "text": {"field": "n", "type": "nominal"}
              }
            }
          ]
        },
        {
          "bounds": "flush", "spacing": 42.5,
          "vconcat": [
            {
              "width": 346, "height": 180,
              "layer": [
                {"data": {"name": "km"}, "transform": [{"filter": "datum.panel === 'p4' && datum.arm === 'mFOLFOX6 + cetuximab'"}],
                 "mark": {"type": "line", "interpolate": "step-after", "color": "#111111", "strokeWidth": 1.3, "strokeDash": [4, 2.5]},
                 "encoding": {"x": {"field": "t", "type": "quantitative", "scale": {"domain": [0, 4], "nice": false}, "axis": {"values": [0, 1, 2, 3, 4], "tickCount": 5, "title": "Years", "format": "d"}},
                              "y": {"field": "s", "type": "quantitative", "scale": {"domain": [0, 100], "nice": false}, "axis": {"values": [0, 20, 40, 60, 80, 100], "tickCount": 6, "title": "Disease-Free Survival, %"}}}},
                {"data": {"name": "km"}, "transform": [{"filter": "datum.panel === 'p4' && datum.arm === 'mFOLFOX6'"}],
                 "mark": {"type": "line", "interpolate": "step-after", "color": "#000000", "strokeWidth": 2},
                 "encoding": {"x": {"field": "t", "type": "quantitative"}, "y": {"field": "s", "type": "quantitative"}}},
                {"data": {"values": [{}]}, "mark": {"type": "text", "text": "mFOLFOX6", "align": "center"}, "encoding": {"x": {"datum": 2.77, "type": "quantitative"}, "y": {"datum": 77.6, "type": "quantitative"}}},
                {"data": {"values": [{}]}, "mark": {"type": "text", "text": "mFOLFOX6 + cetuximab", "align": "center"}, "encoding": {"x": {"datum": 1.53, "type": "quantitative"}, "y": {"datum": 63.0, "type": "quantitative"}}},
                {"data": {"values": [{}]}, "mark": {"type": "text", "text": "HR, 1.14; 95% CI, 0.85-1.52;", "align": "left", "dx": -151.8}, "encoding": {"x": {"datum": 1.94, "type": "quantitative"}, "y": {"datum": 9.2, "type": "quantitative"}}},
                {"data": {"values": [{}]}, "mark": {"type": "text", "text": "P", "fontStyle": "italic", "align": "left", "dx": 12.2}, "encoding": {"x": {"datum": 1.94, "type": "quantitative"}, "y": {"datum": 9.2, "type": "quantitative"}}},
                {"data": {"values": [{}]}, "mark": {"type": "text", "text": "= .38; Log-rank", "align": "left", "dx": 24.0}, "encoding": {"x": {"datum": 1.94, "type": "quantitative"}, "y": {"datum": 9.2, "type": "quantitative"}}},
                {"data": {"values": [{}]}, "mark": {"type": "text", "text": "P", "fontStyle": "italic", "align": "left", "dx": 111.9}, "encoding": {"x": {"datum": 1.94, "type": "quantitative"}, "y": {"datum": 9.2, "type": "quantitative"}}},
                {"data": {"values": [{}]}, "mark": {"type": "text", "text": "= .29", "align": "left", "dx": 123.7}, "encoding": {"x": {"datum": 1.94, "type": "quantitative"}, "y": {"datum": 9.2, "type": "quantitative"}}},
                {"data": {"values": [{}]}, "mark": {"type": "text", "text": "Mutated", "align": "left", "dx": -79.85, "fontSize": 13, "color": "#1a1a1a"}, "encoding": {"x": {"datum": 2, "type": "quantitative"}, "y": {"datum": 107.5, "type": "quantitative"}}},
                {"data": {"values": [{}]}, "mark": {"type": "text", "text": "KRAS", "fontStyle": "italic", "align": "left", "dx": -29.27, "fontSize": 13, "color": "#1a1a1a"}, "encoding": {"x": {"datum": 2, "type": "quantitative"}, "y": {"datum": 107.5, "type": "quantitative"}}},
                {"data": {"values": [{}]}, "mark": {"type": "text", "text": "+ Age <70 y", "align": "left", "dx": 9.74, "fontSize": 13, "color": "#1a1a1a"}, "encoding": {"x": {"datum": 2, "type": "quantitative"}, "y": {"datum": 107.5, "type": "quantitative"}}}
              ]
            },
            {
              "width": 346, "height": 45,
              "data": {"name": "risk"},
              "transform": [{"filter": "datum.panel === 'p4'"}],
              "mark": {"type": "text", "align": "center"},
              "encoding": {
                "x": {"field": "t", "type": "quantitative", "scale": {"domain": [0, 4], "nice": false}, "axis": null},
                "y": {"field": "arm", "type": "nominal", "scale": {"domain": ["No. at risk", "mFOLFOX6", "mFOLFOX6 + cetuximab"]}, "axis": null},
                "text": {"field": "n", "type": "nominal"}
              }
            }
          ]
        }
      ]
    },
    {
      "spacing": 125,
      "hconcat": [
        {
          "bounds": "flush", "spacing": 42.5,
          "vconcat": [
            {
              "width": 341, "height": 180,
              "layer": [
                {"data": {"name": "km"}, "transform": [{"filter": "datum.panel === 'p5' && datum.arm === 'mFOLFOX6 + cetuximab'"}],
                 "mark": {"type": "line", "interpolate": "step-after", "color": "#111111", "strokeWidth": 1.3, "strokeDash": [4, 2.5]},
                 "encoding": {"x": {"field": "t", "type": "quantitative", "scale": {"domain": [0, 4], "nice": false}, "axis": {"values": [0, 1, 2, 3, 4], "tickCount": 5, "title": "Years", "format": "d"}},
                              "y": {"field": "s", "type": "quantitative", "scale": {"domain": [0, 100], "nice": false}, "axis": {"values": [0, 20, 40, 60, 80, 100], "tickCount": 6, "title": "Disease-Free Survival, %"}}}},
                {"data": {"name": "km"}, "transform": [{"filter": "datum.panel === 'p5' && datum.arm === 'mFOLFOX6'"}],
                 "mark": {"type": "line", "interpolate": "step-after", "color": "#000000", "strokeWidth": 2},
                 "encoding": {"x": {"field": "t", "type": "quantitative"}, "y": {"field": "s", "type": "quantitative"}}},
                {"data": {"values": [{}]}, "mark": {"type": "text", "text": "mFOLFOX6", "align": "center"}, "encoding": {"x": {"datum": 3.35, "type": "quantitative"}, "y": {"datum": 81.3, "type": "quantitative"}}},
                {"data": {"values": [{}]}, "mark": {"type": "text", "text": "mFOLFOX6 + cetuximab", "align": "center"}, "encoding": {"x": {"datum": 2.02, "type": "quantitative"}, "y": {"datum": 59.0, "type": "quantitative"}}},
                {"data": {"values": [{}]}, "mark": {"type": "text", "text": "HR, 1.59; 95% CI, 0.93-2.70;", "align": "left", "dx": -151.8}, "encoding": {"x": {"datum": 1.94, "type": "quantitative"}, "y": {"datum": 9.2, "type": "quantitative"}}},
                {"data": {"values": [{}]}, "mark": {"type": "text", "text": "P", "fontStyle": "italic", "align": "left", "dx": 12.2}, "encoding": {"x": {"datum": 1.94, "type": "quantitative"}, "y": {"datum": 9.2, "type": "quantitative"}}},
                {"data": {"values": [{}]}, "mark": {"type": "text", "text": "= .09; Log-rank", "align": "left", "dx": 24.0}, "encoding": {"x": {"datum": 1.94, "type": "quantitative"}, "y": {"datum": 9.2, "type": "quantitative"}}},
                {"data": {"values": [{}]}, "mark": {"type": "text", "text": "P", "fontStyle": "italic", "align": "left", "dx": 111.9}, "encoding": {"x": {"datum": 1.94, "type": "quantitative"}, "y": {"datum": 9.2, "type": "quantitative"}}},
                {"data": {"values": [{}]}, "mark": {"type": "text", "text": "= .06", "align": "left", "dx": 123.7}, "encoding": {"x": {"datum": 1.94, "type": "quantitative"}, "y": {"datum": 9.2, "type": "quantitative"}}},
                {"data": {"values": [{}]}, "mark": {"type": "text", "text": "Wild-type", "align": "left", "dx": -83.23, "fontSize": 13, "color": "#1a1a1a"}, "encoding": {"x": {"datum": 2, "type": "quantitative"}, "y": {"datum": 107.5, "type": "quantitative"}}},
                {"data": {"values": [{}]}, "mark": {"type": "text", "text": "KRAS", "fontStyle": "italic", "align": "left", "dx": -25.44, "fontSize": 13, "color": "#1a1a1a"}, "encoding": {"x": {"datum": 2, "type": "quantitative"}, "y": {"datum": 107.5, "type": "quantitative"}}},
                {"data": {"values": [{}]}, "mark": {"type": "text", "text": "+ Age ≥70 y", "align": "left", "dx": 13.57, "fontSize": 13, "color": "#1a1a1a"}, "encoding": {"x": {"datum": 2, "type": "quantitative"}, "y": {"datum": 107.5, "type": "quantitative"}}}
              ]
            },
            {
              "width": 341, "height": 45,
              "data": {"name": "risk"},
              "transform": [{"filter": "datum.panel === 'p5'"}],
              "mark": {"type": "text", "align": "center"},
              "encoding": {
                "x": {"field": "t", "type": "quantitative", "scale": {"domain": [0, 4], "nice": false}, "axis": null},
                "y": {"field": "arm", "type": "nominal", "scale": {"domain": ["No. at risk", "mFOLFOX6", "mFOLFOX6 + cetuximab"]},
                      "axis": {"title": "No. at risk", "titleAngle": 0, "titleAlign": "left", "titleBaseline": "middle", "titleX": -178, "titleY": 7.5, "ticks": false, "domain": false, "labelAlign": "left", "labelPadding": 169, "labelLimit": 0, "labelExpr": "datum.value === 'No. at risk' ? '' : datum.value"}},
                "text": {"field": "n", "type": "nominal"}
              }
            }
          ]
        },
        {
          "bounds": "flush", "spacing": 42.5,
          "vconcat": [
            {
              "width": 346, "height": 180,
              "layer": [
                {"data": {"name": "km"}, "transform": [{"filter": "datum.panel === 'p6' && datum.arm === 'mFOLFOX6 + cetuximab'"}],
                 "mark": {"type": "line", "interpolate": "step-after", "color": "#111111", "strokeWidth": 1.3, "strokeDash": [4, 2.5]},
                 "encoding": {"x": {"field": "t", "type": "quantitative", "scale": {"domain": [0, 4], "nice": false}, "axis": {"values": [0, 1, 2, 3, 4], "tickCount": 5, "title": "Years", "format": "d"}},
                              "y": {"field": "s", "type": "quantitative", "scale": {"domain": [0, 100], "nice": false}, "axis": {"values": [0, 20, 40, 60, 80, 100], "tickCount": 6, "title": "Disease-Free Survival, %"}}}},
                {"data": {"name": "km"}, "transform": [{"filter": "datum.panel === 'p6' && datum.arm === 'mFOLFOX6'"}],
                 "mark": {"type": "line", "interpolate": "step-after", "color": "#000000", "strokeWidth": 2},
                 "encoding": {"x": {"field": "t", "type": "quantitative"}, "y": {"field": "s", "type": "quantitative"}}},
                {"data": {"values": [{}]}, "mark": {"type": "text", "text": "mFOLFOX6", "align": "center"}, "encoding": {"x": {"datum": 2.52, "type": "quantitative"}, "y": {"datum": 82.8, "type": "quantitative"}}},
                {"data": {"values": [{}]}, "mark": {"type": "text", "text": "mFOLFOX6 + cetuximab", "align": "center"}, "encoding": {"x": {"datum": 1.92, "type": "quantitative"}, "y": {"datum": 53.0, "type": "quantitative"}}},
                {"data": {"values": [{}]}, "mark": {"type": "text", "text": "HR, 1.23; 95% CI, 0.64-2.37;", "align": "left", "dx": -151.8}, "encoding": {"x": {"datum": 1.93, "type": "quantitative"}, "y": {"datum": 9.2, "type": "quantitative"}}},
                {"data": {"values": [{}]}, "mark": {"type": "text", "text": "P", "fontStyle": "italic", "align": "left", "dx": 12.2}, "encoding": {"x": {"datum": 1.93, "type": "quantitative"}, "y": {"datum": 9.2, "type": "quantitative"}}},
                {"data": {"values": [{}]}, "mark": {"type": "text", "text": "= .53; Log-rank", "align": "left", "dx": 24.0}, "encoding": {"x": {"datum": 1.93, "type": "quantitative"}, "y": {"datum": 9.2, "type": "quantitative"}}},
                {"data": {"values": [{}]}, "mark": {"type": "text", "text": "P", "fontStyle": "italic", "align": "left", "dx": 111.9}, "encoding": {"x": {"datum": 1.93, "type": "quantitative"}, "y": {"datum": 9.2, "type": "quantitative"}}},
                {"data": {"values": [{}]}, "mark": {"type": "text", "text": "= .71", "align": "left", "dx": 123.7}, "encoding": {"x": {"datum": 1.93, "type": "quantitative"}, "y": {"datum": 9.2, "type": "quantitative"}}},
                {"data": {"values": [{}]}, "mark": {"type": "text", "text": "Mutated", "align": "left", "dx": -79.63, "fontSize": 13, "color": "#1a1a1a"}, "encoding": {"x": {"datum": 2, "type": "quantitative"}, "y": {"datum": 107.5, "type": "quantitative"}}},
                {"data": {"values": [{}]}, "mark": {"type": "text", "text": "KRAS", "fontStyle": "italic", "align": "left", "dx": -29.04, "fontSize": 13, "color": "#1a1a1a"}, "encoding": {"x": {"datum": 2, "type": "quantitative"}, "y": {"datum": 107.5, "type": "quantitative"}}},
                {"data": {"values": [{}]}, "mark": {"type": "text", "text": "+ Age ≥70 y", "align": "left", "dx": 9.97, "fontSize": 13, "color": "#1a1a1a"}, "encoding": {"x": {"datum": 2, "type": "quantitative"}, "y": {"datum": 107.5, "type": "quantitative"}}}
              ]
            },
            {
              "width": 346, "height": 45,
              "data": {"name": "risk"},
              "transform": [{"filter": "datum.panel === 'p6'"}],
              "mark": {"type": "text", "align": "center"},
              "encoding": {
                "x": {"field": "t", "type": "quantitative", "scale": {"domain": [0, 4], "nice": false}, "axis": null},
                "y": {"field": "arm", "type": "nominal", "scale": {"domain": ["No. at risk", "mFOLFOX6", "mFOLFOX6 + cetuximab"]}, "axis": null},
                "text": {"field": "n", "type": "nominal"}
              }
            }
          ]
        }
      ]
    }
  ]
}
